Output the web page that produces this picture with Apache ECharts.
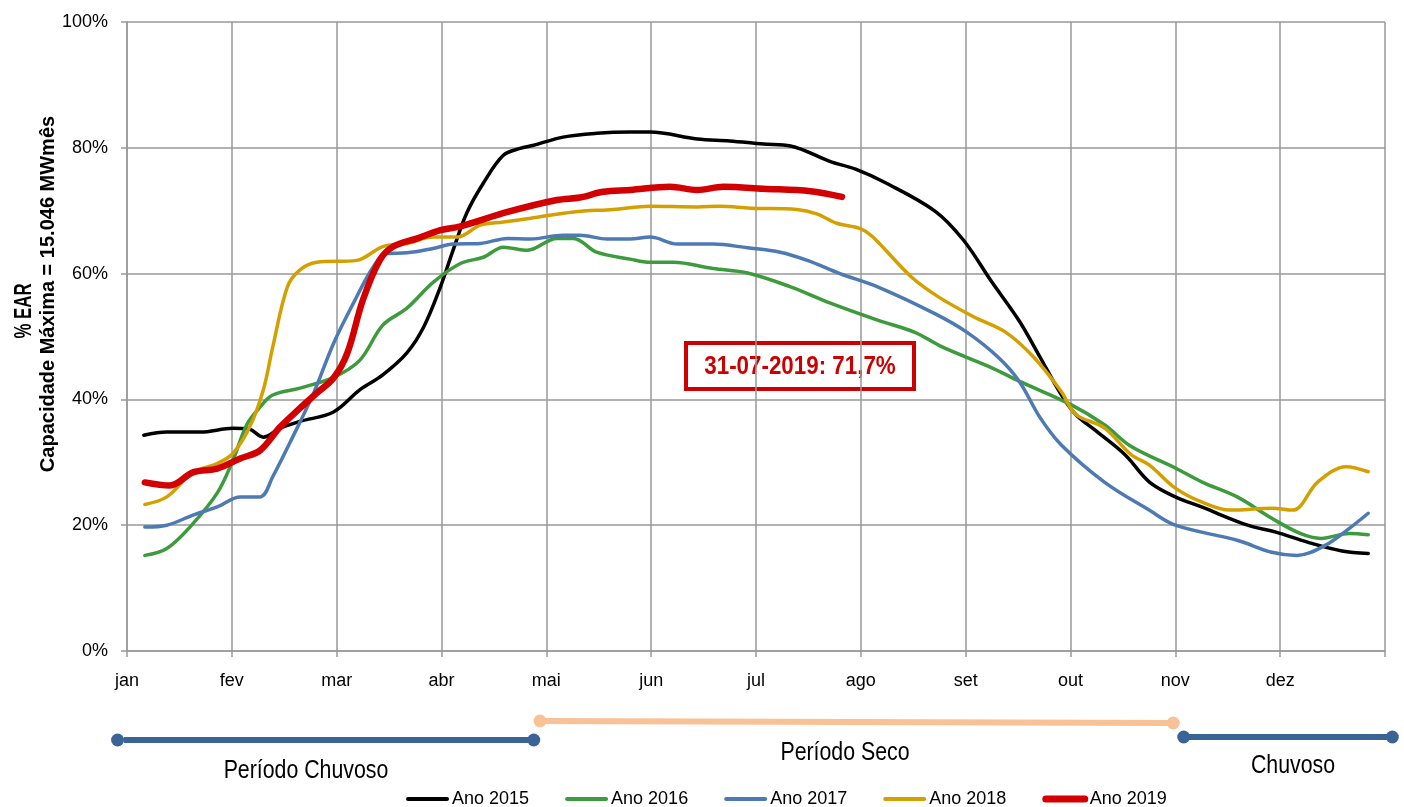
<!DOCTYPE html>
<html>
<head>
    <meta charset="utf-8">
    <script src="https://cdn.jsdelivr.net/npm/echarts@6/dist/echarts.min.js"></script>
    <title>EAR</title>
    <style type="text/css">
        html, body { margin: 0; padding: 0; background: #fff; }
    </style>
</head>
<body>
    <div id="main" style="width:1404px; height:807px;"></div>
    <script type="text/javascript">
        // x = month position (0 = start of jan), y = % EAR
        var months = ['jan', 'fev', 'mar', 'abr', 'mai', 'jun', 'jul', 'ago', 'set', 'out', 'nov', 'dez'];
        var yTicks = [0, 20, 40, 60, 80, 100];

        var ano2015 = [[0.16,34.3],[0.38,34.8],[0.70,34.8],[1.01,35.4],[1.16,35.3],[1.30,34.0],[1.46,35.4],[1.65,36.5],[1.97,38.0],
            [2.22,41.5],[2.44,43.9],[2.67,47.4],[2.83,51.5],[2.99,57.9],[3.11,63.7],[3.24,69.6],[3.40,74.4],[3.59,78.8],[3.75,79.9],
            [3.88,80.4],[4.16,81.7],[4.48,82.3],[4.80,82.5],[4.99,82.5],[5.44,81.4],[5.75,81.1],[6.07,80.6],[6.33,80.3],[6.71,77.8],
            [6.95,76.6],[7.24,74.4],[7.71,69.9],[7.98,65.3],[8.24,58.9],[8.51,52.5],[8.71,46.7],[8.91,40.8],[9.05,37.6],[9.25,34.9],
            [9.52,31.2],[9.75,26.9],[10.0,24.5],[10.25,22.9],[10.69,20.0],[10.96,18.9],[11.26,17.3],[11.59,15.9],[11.84,15.5]];
        var ano2016 = [[0.17,15.2],[0.38,16.3],[0.60,19.7],[0.86,25.1],[1.01,30.3],[1.14,35.9],[1.27,38.8],[1.39,40.7],[1.65,41.8],
            [1.97,43.5],[2.22,46.2],[2.44,51.8],[2.67,54.5],[2.92,58.6],[3.18,61.6],[3.40,62.6],[3.59,64.2],[3.82,63.7],[4.10,65.6],
            [4.26,65.6],[4.48,63.4],[4.80,62.3],[4.99,61.8],[5.21,61.8],[5.59,60.8],[5.92,60.1],[6.33,57.9],[6.71,55.3],[7.16,52.6],
            [7.51,50.7],[7.78,48.3],[8.24,45.1],[8.51,42.9],[9.0,39.2],[9.32,36.0],[9.58,32.5],[10.0,29.1],[10.25,26.9],[10.59,24.5],
            [10.92,21.1],[11.19,18.7],[11.39,17.9],[11.66,18.7],[11.84,18.5]];
        var ano2017 = [[0.17,19.7],[0.38,20.0],[0.63,21.6],[0.86,22.9],[1.08,24.5],[1.27,24.5],[1.39,27.7],[1.58,34.0],[1.78,41.0],
            [1.97,48.9],[2.16,55.3],[2.35,61.1],[2.48,63.2],[2.67,63.3],[2.92,64.0],[3.11,64.7],[3.37,64.8],[3.63,65.6],[3.85,65.5],
            [4.16,66.1],[4.32,66.1],[4.58,65.5],[4.80,65.5],[4.99,65.8],[5.25,64.7],[5.59,64.7],[5.92,64.1],[6.23,63.4],[6.49,62.1],
            [6.80,60.0],[7.16,57.9],[7.71,53.6],[8.01,50.7],[8.31,46.7],[8.51,42.9],[8.71,37.1],[8.91,32.8],[9.32,26.9],[9.75,22.4],
            [10.0,20.0],[10.59,17.6],[10.92,15.7],[11.16,15.2],[11.43,16.8],[11.66,19.5],[11.84,21.9]];
        var ano2018 = [[0.17,23.3],[0.38,24.5],[0.63,28.4],[0.86,29.8],[1.01,31.4],[1.17,35.6],[1.30,41.5],[1.39,48.3],[1.53,57.9],
            [1.65,60.6],[1.81,61.8],[2.19,62.1],[2.44,64.3],[2.67,64.8],[2.92,65.8],[3.15,65.8],[3.37,67.7],[3.59,68.2],[3.85,68.8],
            [4.26,69.8],[4.64,70.2],[4.99,70.7],[5.44,70.6],[5.66,70.7],[5.95,70.4],[6.39,70.2],[6.58,69.5],[6.77,68.0],[6.99,67.2],
            [7.11,65.9],[7.48,59.5],[7.74,56.3],[8.08,53.1],[8.38,50.7],[8.65,46.7],[8.91,41.3],[9.05,37.6],[9.32,35.5],[9.58,31.2],
            [9.75,29.6],[10.0,25.9],[10.25,23.7],[10.52,22.4],[10.92,22.7],[11.12,22.4],[11.36,26.9],[11.63,29.3],[11.84,28.5]];
        var ano2019 = [[0.17,26.8],[0.41,26.3],[0.63,28.4],[0.86,29.0],[1.08,30.6],[1.27,31.9],[1.46,35.6],[1.65,38.6],[1.81,41.0],
            [1.97,43.4],[2.10,47.3],[2.25,55.8],[2.41,62.1],[2.54,64.3],[2.77,65.6],[2.99,66.9],[3.18,67.5],[3.63,69.8],[4.10,71.7],
            [4.32,72.1],[4.54,73.0],[4.80,73.3],[5.18,73.8],[5.44,73.3],[5.69,73.8],[6.07,73.5],[6.52,73.1],[6.82,72.2]];

        // periods drawn under the axis (x in months, y = offset in the small grid)
        var periodoChuvoso1 = [[-0.09, 29], [3.88, 29]];
        var periodoSeco = [[3.94, 10], [9.98, 12]];
        var periodoChuvoso2 = [[10.08, 26], [12.07, 26]];

        var font = '"Liberation Sans", Arial, sans-serif';

        var myChart = echarts.init(document.getElementById('main'));

        function serie(name, data, color, width) {
            return {
                name: name,
                type: 'line',
                data: data,
                smooth: 0.35,
                symbol: 'circle',
                showSymbol: false,
                color: color,
                lineStyle: { color: color, width: width, cap: 'round' },
                xAxisIndex: 0,
                yAxisIndex: 0
            };
        }

        function periodo(data, color) {
            return {
                type: 'line',
                data: data,
                xAxisIndex: 1,
                yAxisIndex: 1,
                clip: false,
                symbol: 'circle',
                symbolSize: 13,
                showSymbol: true,
                lineStyle: { color: color, width: 6 },
                itemStyle: { color: color },
                silent: true,
                z: 1
            };
        }

        // narrow-looking text: Liberation Sans squeezed horizontally
        function narrowText(x, y, text, size, bold, rot, sx) {
            return {
                type: 'text', x: x, y: y, rotation: rot || 0, scaleX: sx || 0.82,
                style: { text: text, textAlign: 'center', textVerticalAlign: 'middle',
                    font: (bold ? 'bold ' : '') + size + 'px ' + font, fill: '#000' }
            };
        }

        var option = {
            animation: false,
            backgroundColor: '#fff',
            grid: [
                { left: 127, right: 19, top: 22, bottom: 156 },
                { left: 127, right: 19, top: 711, height: 40 }
            ],
            legend: {
                left: 401,
                top: 785,
                itemWidth: 39,
                itemHeight: 14,
                itemGap: 36,
                itemStyle: { opacity: 0 },
                textStyle: { fontFamily: font, fontSize: 18, color: '#000' },
                data: [
                    { name: 'Ano 2015', lineStyle: { width: 4 } },
                    { name: 'Ano 2016', lineStyle: { width: 4 } },
                    { name: 'Ano 2017', lineStyle: { width: 4 } },
                    { name: 'Ano 2018', lineStyle: { width: 4 } },
                    { name: 'Ano 2019', lineStyle: { width: 7 } }
                ]
            },
            xAxis: [
                {
                    type: 'value',
                    gridIndex: 0,
                    min: 0,
                    max: 12,
                    interval: 1,
                    axisLine: { lineStyle: { color: '#999', width: 1.5 } },
                    axisTick: { show: true, length: 6, lineStyle: { color: '#999', width: 1.5 } },
                    splitLine: { show: true, lineStyle: { color: '#999', width: 1.5 } },
                    axisLabel: {
                        margin: 21,
                        color: '#000',
                        fontFamily: font,
                        fontSize: 18,
                        formatter: function (v) { return months[v] || ''; }
                    }
                },
                { type: 'value', gridIndex: 1, min: 0, max: 12, show: false }
            ],
            yAxis: [
                {
                    type: 'value',
                    gridIndex: 0,
                    min: yTicks[0],
                    max: yTicks[yTicks.length - 1],
                    interval: 20,
                    axisLine: { show: true, lineStyle: { color: '#999', width: 1.5 } },
                    axisTick: { show: true, length: 6, lineStyle: { color: '#999', width: 1.5 } },
                    splitLine: { show: true, lineStyle: { color: '#999', width: 1.5 } },
                    axisLabel: {
                        margin: 19,
                        color: '#000',
                        fontFamily: font,
                        fontSize: 18,
                        formatter: '{value}%'
                    }
                },
                { type: 'value', gridIndex: 1, min: 0, max: 40, inverse: true, show: false }
            ],
            graphic: [
                narrowText(24, 311, '% EAR', 24, true, Math.PI / 2, 0.7),
                narrowText(48, 294, 'Capacidade Máxima = 15.046 MWmês', 20, true, Math.PI / 2, 1),
                narrowText(306, 771, 'Período Chuvoso', 26),
                narrowText(845, 753, 'Período Seco', 26),
                narrowText(1293, 766, 'Chuvoso', 26),
                {
                    type: 'group', x: 800, y: 366,
                    children: [
                        { type: 'rect', shape: { x: -114, y: -23, width: 228, height: 46 },
                          style: { fill: null, stroke: '#cc0000', lineWidth: 4 } },
                        { type: 'text', x: 0, y: 1, scaleX: 0.86,
                          style: { text: '31-07-2019: 71,7%', textAlign: 'center', textVerticalAlign: 'middle',
                              font: 'bold 26px ' + font, fill: '#cc0000' } }
                    ]
                }
            ],
            series: [
                serie('Ano 2015', ano2015, '#000000', 3.5),
                serie('Ano 2016', ano2016, '#3d9a3d', 3.5),
                serie('Ano 2017', ano2017, '#4d7ab2', 3.5),
                serie('Ano 2018', ano2018, '#d4a000', 3.5),
                serie('Ano 2019', ano2019, '#d20000', 6.5),
                periodo(periodoChuvoso1, '#3b6496'),
                periodo(periodoSeco, '#f8c196'),
                periodo(periodoChuvoso2, '#3b6496')
            ]
        };

        myChart.setOption(option);
    </script>
</body>
</html>
